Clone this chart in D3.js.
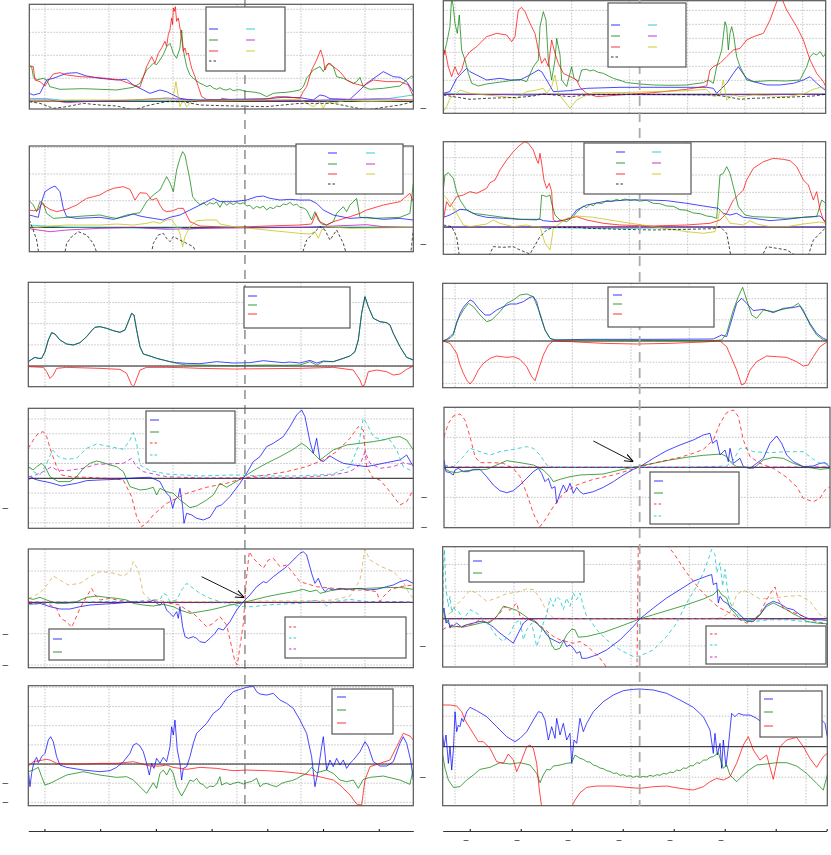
<!DOCTYPE html>
<html><head><meta charset="utf-8">
<script src="https://cdn.jsdelivr.net/npm/d3@7"></script>
<style>
body{margin:0;background:#fff;font-family:"DejaVu Sans",sans-serif;}
</style></head><body>
<svg id="fig" width="831" height="855"></svg>
<script>
'use strict';
//Series are flat lists: frame, value, frame, value ...
//Row 1, left.
const p1lBlue = [88,24, 100,19, 120,24, 140,64, 160,69, 200,84, 230,86, 260,76, 300,69, 350,64, 380,66, 400,49, 430,34, 450,24, 480,34, 500,29, 520,19, 540,9, 560,6, 600,4, 700,6, 800,8, 850,12, 900,11, 940,4, 960,19, 975,16, 990,8, 1050,6, 1080,34, 1100,54, 1150,89, 1180,74, 1200,72, 1220,59, 1240,29];
const p1lGreen = [88,104, 95,104, 100,74, 110,64, 130,69, 140,64, 150,44, 180,36, 250,38, 300,36, 350,34, 400,42, 420,54, 430,74, 440,94, 450,104, 460,114, 470,110, 480,124, 490,140, 500,164, 510,174, 515,160, 520,144, 530,129, 540,160, 545,214, 550,154, 560,104, 570,79, 580,69, 600,54, 610,50, 620,44, 630,48, 640,40, 650,36, 660,41, 670,35, 680,34, 690,38, 700,32, 710,34, 720,35, 735,30, 750,29, 765,27, 780,24, 800,14, 820,24, 840,26, 860,27, 880,30, 900,34, 910,44, 920,69, 940,94, 960,104, 970,89, 980,109, 990,114, 1000,104, 1010,74, 1030,69, 1050,59, 1060,54, 1070,59, 1080,72, 1090,44, 1110,36, 1150,39, 1200,46, 1220,64, 1235,76, 1240,70];
const p1lRed = [88,107, 100,104, 105,64, 120,59, 135,46, 150,69, 160,82, 180,86, 200,79, 240,74, 280,72, 320,69, 360,64, 400,49, 420,42, 440,104, 455,134, 465,114, 475,144, 485,160, 495,180, 500,165, 505,200, 510,214, 515,250, 518,230, 520,280, 523,270, 526,284, 530,240, 535,250, 540,220, 545,190, 550,150, 555,160, 560,140, 565,145, 570,120, 575,100, 585,74, 595,44, 605,14, 620,6, 660,4, 665,9, 700,4, 800,6, 830,14, 860,14, 900,9, 910,30, 920,44, 935,94, 950,124, 962,154, 970,129, 975,94, 985,114, 1000,104, 1020,89, 1040,64, 1060,54, 1080,49, 1090,46, 1120,64, 1160,59, 1200,59, 1225,49, 1240,14];
const p1lCyan = [88,9, 140,8, 200,2, 400,2, 500,4, 700,4, 900,2, 1150,6, 1240,19];
const p1lMagenta = [88,4, 150,4, 200,-4, 250,-1, 400,4, 470,8, 500,10, 600,2, 900,2, 1140,8, 1240,4];
const p1lYellow = [88,-1, 150,-1, 200,4, 400,4, 500,9, 510,-1, 520,14, 528,59, 535,14, 540,-16, 550,4, 560,-16, 580,4, 600,-1, 700,2, 800,4, 900,6, 920,-6, 940,-16, 960,-1, 970,-21, 980,-1, 1000,-6, 1040,4, 1100,-1, 1240,4];
const p1lBlack = [88,-1, 120,-6, 160,-21, 200,-16, 250,-6, 300,-11, 350,-14, 400,-26, 450,-11, 500,-1, 550,-1, 600,-11, 700,-14, 800,-16, 850,-11, 900,-6, 1000,-6, 1050,-16, 1100,-26, 1150,-18, 1200,-11, 1240,-1];
//Row 1, right.
const p1rBlue = [70,3, 90,8, 110,48, 125,63, 140,78, 150,68, 170,58, 200,43, 240,48, 270,43, 300,43, 330,58, 355,73, 365,68, 380,43, 400,8, 450,11, 500,18, 600,21, 700,21, 800,21, 860,21, 880,18, 890,3, 900,13, 920,33, 940,63, 955,83, 965,68, 980,48, 1000,38, 1040,28, 1080,28, 1120,33, 1150,43, 1170,53, 1190,33, 1217,11];
const p1rGreen = [70,113, 80,153, 90,203, 95,290, 100,263, 105,213, 112,183, 118,238, 125,133, 135,103, 145,63, 155,33, 175,25, 200,31, 250,38, 300,45, 320,38, 340,83, 355,103, 360,203, 370,248, 378,223, 385,103, 395,43, 405,103, 410,168, 420,118, 425,43, 440,23, 455,83, 462,48, 475,38, 485,73, 500,75, 510,70, 520,73, 535,66, 550,63, 565,55, 580,48, 600,42, 620,35, 660,31, 700,28, 750,27, 800,28, 850,35, 865,43, 880,33, 890,83, 905,133, 915,218, 920,203, 925,133, 930,183, 935,203, 940,183, 950,113, 960,83, 980,43, 1000,38, 1050,41, 1100,40, 1140,43, 1160,83, 1170,113, 1180,123, 1190,118, 1200,128, 1210,113, 1217,123];
const p1rRed = [70,113, 75,133, 85,83, 95,53, 105,83, 115,58, 125,73, 135,108, 150,128, 170,143, 200,173, 230,183, 260,178, 275,158, 285,173, 295,253, 305,261, 315,248, 330,213, 345,183, 355,133, 365,93, 375,108, 385,83, 395,163, 405,123, 415,93, 430,63, 450,53, 470,43, 480,21, 500,3, 530,-7, 560,-5, 600,-2, 700,5, 800,15, 860,25, 870,73, 880,83, 900,93, 920,113, 940,133, 960,138, 980,163, 1000,173, 1030,183, 1050,223, 1070,278, 1080,300, 1100,253, 1130,203, 1150,163, 1170,103, 1190,63, 1210,38, 1217,23];
const p1rCyan = [70,2, 200,-1, 400,0, 900,-2, 1217,1];
const p1rMagenta = [70,0, 250,-1, 330,-3, 360,0, 700,-1, 1217,0];
const p1rYellow = [70,-52, 80,-37, 90,-12, 105,-2, 120,13, 135,8, 150,3, 200,-2, 250,-7, 290,-12, 320,8, 350,13, 370,18, 380,3, 395,23, 405,58, 415,3, 430,-17, 450,-42, 470,-17, 490,-7, 520,5, 600,5, 700,8, 800,11, 860,15, 880,-7, 900,-2, 910,43, 920,-17, 940,-2, 960,-7, 1000,-2, 1100,-7, 1150,1, 1180,15, 1200,21, 1217,18];
const p1rBlack = [70,-2, 100,-7, 150,-15, 200,-12, 300,-9, 340,-5, 370,1, 400,-2, 450,-7, 500,-2, 600,0, 800,-1, 880,-2, 920,-7, 960,-15, 1000,-12, 1100,-9, 1180,-5, 1217,0];
//Row 2, left.
const p2lBlue = [88,37, 100,34, 115,30, 125,77, 135,107, 150,117, 165,124, 180,107, 190,57, 200,32, 230,27, 300,30, 340,24, 380,34, 400,40, 420,34, 440,30, 460,27, 490,22, 510,30, 540,37, 570,52, 600,67, 620,77, 640,87, 660,77, 700,77, 740,82, 770,92, 790,94, 810,87, 840,82, 870,84, 900,82, 930,82, 950,72, 970,52, 1000,37, 1050,27, 1100,30, 1150,24, 1200,27, 1240,22];
const p2lGreen = [88,80, 100,67, 110,47, 120,77, 130,72, 140,42, 160,27, 200,30, 250,34, 300,37, 330,30, 350,27, 380,37, 420,44, 440,77, 460,97, 480,112, 490,132, 500,152, 510,134, 520,107, 530,172, 540,207, 548,227, 555,217, 560,192, 570,142, 578,92, 590,77, 600,68, 610,74, 620,66, 630,74, 640,70, 650,76, 660,60, 670,78, 680,66, 690,74, 700,68, 710,75, 720,70, 730,74, 740,64, 750,66, 760,55, 770,63, 780,58, 790,64, 800,52, 810,60, 820,56, 830,64, 840,62, 850,70, 860,68, 870,75, 880,66, 890,70, 900,60, 910,58, 920,52, 935,22, 945,47, 955,22, 965,10, 980,7, 1000,17, 1010,42, 1020,52, 1030,62, 1040,47, 1050,67, 1060,77, 1070,87, 1080,30, 1120,27, 1200,30, 1230,42, 1240,132];
const p2lRed = [88,52, 100,50, 115,52, 125,72, 135,64, 150,54, 170,47, 200,54, 230,67, 260,87, 280,92, 300,97, 320,109, 340,117, 370,122, 390,114, 405,82, 420,104, 440,102, 455,82, 470,87, 480,67, 490,52, 500,47, 520,50, 535,57, 550,57, 570,17, 600,4, 700,0, 800,4, 900,7, 935,10, 948,42, 960,17, 980,7, 1000,17, 1050,32, 1080,42, 1100,52, 1150,67, 1200,77, 1230,102, 1240,77];
const p2lCyan = [88,7, 200,0, 500,-3, 540,0, 560,-6, 600,-3, 700,0, 1240,0];
const p2lMagenta = [88,-4, 150,-13, 200,-8, 300,-3, 400,0, 500,-6, 600,-3, 900,0, 1100,8, 1150,2, 1240,0];
const p2lYellow = [88,-3, 150,4, 200,7, 300,7, 350,10, 400,7, 440,12, 460,17, 480,12, 500,22, 515,24, 530,2, 540,-18, 548,-58, 555,-28, 570,2, 590,20, 620,22, 650,22, 660,10, 700,2, 800,-8, 900,-18, 930,-20, 945,-13, 955,-33, 965,-8, 980,2, 1050,-3, 1240,0];
const p2lBlack = [88,22, 100,-8, 110,-38, 120,-100, 190,-100, 200,-48, 215,-28, 235,-13, 260,-23, 280,-48, 300,-100, 450,-100, 460,-48, 475,-23, 490,-18, 500,-33, 510,-43, 520,-28, 540,-38, 560,-48, 580,-58, 600,-100, 900,-100, 920,-38, 940,-18, 960,2, 975,-8, 990,-38, 1010,-8, 1030,-48, 1045,-100, 1230,-100, 1240,-8];
//Row 2, right.
const p2rBlue = [70,29, 90,36, 120,53, 140,51, 170,36, 200,29, 250,26, 300,23, 360,23, 370,19, 400,16, 430,19, 450,26, 470,51, 500,66, 550,76, 620,81, 680,81, 740,79, 800,71, 850,63, 895,56, 910,41, 930,36, 950,41, 970,29, 1000,26, 1050,19, 1100,23, 1150,29, 1200,33, 1217,16];
const p2rGreen = [70,111, 75,156, 85,163, 100,146, 110,106, 120,81, 140,51, 160,41, 200,36, 250,29, 300,23, 350,21, 360,26, 365,96, 380,91, 390,96, 395,71, 405,36, 420,21, 440,16, 460,31, 470,45, 480,53, 490,63, 500,58, 510,68, 520,64, 530,73, 545,70, 560,80, 575,76, 590,83, 600,79, 615,84, 630,80, 645,82, 660,78, 680,80, 700,71, 720,70, 740,63, 760,62, 780,52, 800,50, 820,42, 840,40, 860,33, 875,31, 890,26, 900,156, 910,161, 920,181, 930,161, 940,121, 955,61, 975,36, 1000,31, 1050,29, 1100,26, 1150,29, 1190,31, 1205,81, 1217,71];
const p2rRed = [70,21, 80,76, 90,61, 100,76, 110,91, 130,96, 150,106, 170,101, 200,116, 210,133, 225,141, 240,171, 260,201, 280,226, 300,246, 315,256, 325,251, 340,231, 350,201, 355,191, 360,221, 365,191, 372,141, 380,116, 388,131, 395,106, 400,21, 410,16, 430,21, 450,26, 470,31, 500,21, 550,11, 600,6, 700,3, 800,6, 870,11, 900,21, 920,41, 940,81, 955,96, 970,111, 980,141, 1000,176, 1030,196, 1060,206, 1090,203, 1110,199, 1130,181, 1150,141, 1165,126, 1180,81, 1190,106, 1200,51, 1210,21, 1217,11];
const p2rCyan = [70,1, 360,-1, 380,-5, 400,-2, 500,-4, 600,-5, 700,-3, 900,-1, 1217,0];
const p2rMagenta = [70,-1, 600,0, 1217,-1];
const p2rYellow = [70,96, 80,86, 95,66, 110,41, 130,6, 150,1, 200,9, 220,21, 240,11, 280,1, 320,6, 340,1, 360,1, 375,-49, 390,-69, 395,-39, 400,-4, 420,11, 440,26, 470,33, 520,29, 600,16, 700,1, 800,-14, 850,-19, 885,-14, 900,51, 915,33, 930,11, 950,9, 970,6, 990,19, 1010,9, 1050,1, 1100,1, 1150,9, 1200,15, 1217,11];
const p2rBlack = [70,6, 95,1, 110,-29, 120,-100, 200,-100, 220,-59, 250,-61, 280,-59, 300,-69, 330,-81, 360,-29, 380,-9, 400,-1, 480,-1, 500,-4, 600,-7, 700,-9, 800,-7, 880,-5, 900,1, 920,-19, 935,-100, 1020,-100, 1040,-59, 1070,-64, 1100,-69, 1120,-81, 1160,-100, 1180,-39, 1210,-9, 1217,-1];
//Row 3, left.
const p3lBlue = [85,13, 95,20, 105,26, 115,23, 125,23, 135,43, 145,78, 155,100, 165,96, 180,78, 200,66, 220,63, 240,70, 260,88, 275,106, 285,116, 300,118, 320,113, 340,106, 360,101, 375,108, 385,133, 395,158, 402,153, 410,108, 420,58, 430,36, 450,30, 470,23, 490,18, 510,13, 530,10, 560,8, 600,7, 650,13, 700,9, 750,10, 790,16, 850,10, 870,12, 900,9, 930,17, 950,9, 970,15, 1000,13, 1030,23, 1050,30, 1065,43, 1075,78, 1085,158, 1095,208, 1105,178, 1120,143, 1140,133, 1160,130, 1170,123, 1180,98, 1200,58, 1220,26, 1240,18];
const p3lGreen = [85,13, 95,20, 105,26, 115,23, 125,23, 135,43, 145,78, 155,100, 165,96, 180,78, 200,66, 220,63, 240,70, 260,88, 275,106, 285,116, 300,118, 320,113, 340,106, 360,101, 375,108, 385,133, 395,158, 402,153, 410,108, 420,58, 430,36, 450,30, 470,23, 490,18, 510,13, 530,8, 560,3, 600,3, 650,2, 700,1, 750,2, 800,3, 850,2, 900,3, 930,13, 950,3, 970,13, 1000,13, 1030,23, 1050,30, 1065,43, 1075,78, 1085,158, 1095,208, 1105,178, 1120,143, 1140,133, 1160,130, 1170,123, 1180,98, 1200,58, 1220,26, 1240,18];
const p3lRed = [85,-2, 130,-4, 140,-17, 150,-37, 160,-27, 170,-7, 200,-4, 300,-7, 360,-10, 380,-22, 395,-57, 400,-62, 405,-52, 420,-12, 440,-4, 500,-4, 550,-5, 600,-7, 700,-9, 800,-8, 900,-7, 1000,-4, 1060,-12, 1080,-42, 1088,-62, 1095,-52, 1105,-17, 1130,-12, 1160,-17, 1180,-27, 1200,-24, 1220,-10, 1240,0];
//Row 3, right.
const p3rBlue = [68,0, 80,5, 90,13, 100,23, 110,53, 120,83, 130,101, 140,113, 150,123, 160,118, 175,98, 195,78, 210,78, 230,93, 250,103, 270,111, 290,111, 310,118, 330,131, 340,133, 350,118, 360,78, 375,33, 390,8, 400,3, 500,5, 700,5, 880,6, 905,18, 920,13, 935,63, 950,113, 965,128, 980,113, 1000,91, 1030,95, 1060,85, 1090,98, 1120,100, 1140,105, 1150,88, 1170,53, 1190,23, 1210,8, 1222,3];
const p3rGreen = [68,0, 90,8, 100,18, 110,58, 130,93, 145,113, 160,103, 180,78, 200,58, 215,63, 240,88, 260,113, 280,123, 300,138, 320,141, 340,133, 360,83, 375,33, 390,8, 410,3, 500,3, 700,2, 880,1, 905,3, 920,23, 940,93, 955,133, 968,161, 980,123, 995,78, 1010,68, 1030,93, 1060,88, 1090,95, 1120,103, 1135,113, 1150,93, 1170,48, 1190,18, 1210,3, 1222,1];
const p3rRed = [68,0, 90,-7, 100,-22, 110,-37, 120,-72, 130,-97, 140,-117, 150,-129, 160,-117, 175,-87, 190,-67, 210,-52, 230,-45, 260,-49, 280,-47, 300,-55, 320,-77, 335,-107, 345,-119, 355,-87, 370,-42, 385,-12, 400,0, 450,-2, 550,-7, 650,-9, 750,-7, 850,-3, 900,0, 920,-17, 935,-52, 950,-87, 965,-132, 975,-127, 990,-87, 1010,-62, 1040,-45, 1070,-47, 1100,-49, 1130,-62, 1150,-75, 1165,-72, 1180,-47, 1200,-17, 1222,-2];
//Row 4, left.
const p4lBlue = [85,-5, 95,3, 105,-3, 120,-7, 150,-13, 185,-23, 200,-20, 230,-15, 260,-7, 300,-5, 350,-3, 390,0, 420,2, 450,3, 465,-3, 480,-10, 490,-30, 500,-45, 510,-55, 518,-90, 525,-65, 535,-55, 540,-30, 548,-85, 552,-135, 560,-105, 575,-110, 590,-120, 610,-125, 630,-117, 650,-85, 665,-80, 690,-55, 720,-15, 740,15, 760,50, 780,65, 800,95, 820,105, 850,125, 870,155, 890,190, 905,205, 915,185, 930,110, 940,75, 950,120, 960,55, 970,50, 990,67, 1010,55, 1030,45, 1060,40, 1100,35, 1150,45, 1200,55, 1220,70, 1240,35];
const p4lGreen = [85,35, 100,25, 110,35, 125,45, 135,35, 150,5, 175,-10, 210,-10, 230,5, 250,30, 270,45, 290,52, 310,47, 330,40, 350,35, 370,20, 390,-25, 420,-35, 440,-33, 460,-27, 470,-50, 480,-30, 500,-40, 520,-45, 540,-65, 560,-80, 570,-88, 590,-83, 620,-65, 640,-50, 660,-15, 680,-27, 700,-15, 720,-3, 740,10, 760,23, 800,45, 840,65, 880,87, 905,105, 920,95, 940,75, 960,55, 980,70, 1000,85, 1040,100, 1080,105, 1120,110, 1150,115, 1180,123, 1200,125, 1220,115, 1240,85];
const p4lRed = [85,90, 100,115, 115,135, 130,140, 140,125, 155,75, 170,35, 185,10, 210,5, 260,3, 320,0, 370,-5, 395,-55, 410,-115, 425,-145, 440,-135, 460,-110, 500,-75, 560,-45, 620,-27, 680,-15, 740,3, 800,10, 860,20, 920,35, 970,55, 1010,80, 1050,120, 1075,155, 1090,145, 1100,35, 1120,0, 1140,-5, 1170,-40, 1200,-80, 1220,-70, 1240,-35];
const p4lCyan = [85,35, 100,20, 120,10, 140,45, 158,85, 175,65, 200,57, 230,60, 260,90, 290,103, 330,95, 370,87, 390,115, 400,137, 410,105, 420,40, 450,23, 500,13, 600,7, 700,10, 800,7, 900,7, 1000,13, 1050,35, 1075,95, 1090,180, 1100,165, 1120,125, 1140,117, 1170,115, 1190,85, 1210,35, 1240,20];
const p4lMagenta = [85,5, 100,7, 130,20, 155,35, 170,25, 200,23, 250,30, 290,42, 330,43, 370,45, 395,60, 410,35, 430,20, 460,13, 500,5, 600,1, 900,2, 1000,10, 1050,20, 1080,40, 1095,80, 1110,45, 1140,30, 1180,35, 1210,47, 1240,40];
//Row 4, right.
const p4rBlue = [72,22, 78,-13, 90,-16, 100,-23, 105,-8, 115,-3, 130,-13, 145,-13, 160,-6, 180,-6, 200,-28, 220,-53, 240,-70, 260,-76, 280,-70, 300,-53, 320,-33, 340,-13, 355,-3, 365,-18, 375,-43, 385,-33, 395,-63, 405,-58, 410,-108, 420,-78, 430,-53, 440,-73, 450,-48, 460,-78, 470,-60, 480,-73, 490,-80, 520,-73, 550,-60, 580,-43, 610,-23, 640,-6, 660,2, 700,27, 740,50, 780,67, 820,82, 850,97, 870,102, 878,72, 890,82, 900,37, 915,52, 925,17, 930,57, 940,12, 960,27, 970,2, 990,-3, 1010,12, 1030,27, 1050,72, 1070,94, 1085,72, 1100,37, 1120,17, 1150,2, 1180,4, 1200,12, 1215,14, 1230,0];
const p4rGreen = [72,-3, 90,-13, 110,-16, 130,-11, 160,-8, 200,-6, 230,7, 260,20, 300,14, 340,7, 370,-8, 390,-28, 400,-43, 420,-36, 450,-28, 480,-23, 550,-20, 600,-8, 650,2, 700,12, 750,22, 800,30, 850,36, 905,40, 920,32, 935,12, 950,2, 1000,-3, 1030,22, 1060,30, 1090,27, 1120,12, 1150,2, 1200,-6, 1230,-3];
const p4rRed = [72,92, 85,132, 100,154, 120,160, 135,142, 150,92, 165,32, 180,14, 220,14, 250,12, 280,-3, 300,-28, 320,-78, 340,-138, 360,-178, 375,-158, 400,-118, 430,-78, 470,-53, 520,-36, 580,-23, 630,-8, 660,2, 720,17, 780,30, 820,42, 850,54, 880,82, 900,132, 920,164, 940,172, 955,152, 970,82, 990,32, 1020,12, 1060,-3, 1100,-30, 1130,-58, 1150,-93, 1180,-103, 1200,-93, 1215,-68, 1230,-58];
const p4rCyan = [72,7, 100,2, 130,32, 150,57, 180,47, 210,37, 240,47, 280,54, 320,62, 340,57, 360,37, 380,7, 400,0, 600,0, 800,0, 920,4, 940,22, 960,57, 980,57, 1000,47, 1050,44, 1100,47, 1150,47, 1180,24, 1200,12, 1230,10];
const p4rMagenta = [72,1, 600,0, 1230,1];
//Row 5, left.
const p5lBlue = [85,-3, 100,-5, 120,-3, 150,-13, 180,-20, 210,-20, 240,-13, 270,-8, 300,-6, 350,-3, 400,2, 430,-1, 450,2, 460,7, 470,-3, 480,-8, 490,2, 500,-23, 510,-33, 520,-43, 530,-28, 535,-48, 540,-13, 548,-73, 555,-103, 565,-108, 580,-103, 590,-108, 600,-118, 615,-121, 630,-108, 645,-93, 655,-78, 670,-83, 690,-58, 710,-23, 730,2, 750,22, 770,47, 790,62, 800,59, 820,77, 840,92, 860,107, 880,127, 900,147, 910,152, 920,142, 935,87, 945,57, 955,72, 965,47, 975,32, 985,42, 1000,37, 1020,42, 1050,39, 1080,42, 1100,37, 1130,39, 1160,47, 1180,52, 1200,62, 1220,67, 1240,57];
const p5lGreen = [85,12, 100,9, 120,15, 140,7, 170,-3, 200,-3, 230,2, 260,15, 290,19, 320,15, 350,12, 380,7, 400,-3, 430,-8, 460,-11, 490,-6, 520,-13, 540,-23, 570,-33, 600,-28, 630,-23, 660,-16, 690,-8, 720,-3, 760,7, 800,17, 840,25, 880,32, 910,39, 930,32, 950,37, 960,27, 980,32, 1000,37, 1050,41, 1100,42, 1150,44, 1200,45, 1240,39];
const p5lRed = [85,-3, 100,-5, 130,-3, 150,-8, 170,-18, 180,-43, 190,-53, 200,-58, 215,-75, 225,-53, 240,-18, 260,17, 275,42, 285,22, 300,7, 330,12, 360,5, 400,2, 450,2, 500,-1, 540,-8, 560,-23, 580,-33, 600,-53, 620,-73, 640,-63, 660,-43, 680,-68, 695,-133, 705,-178, 712,-188, 720,-133, 730,-63, 740,77, 748,152, 760,132, 775,117, 790,102, 805,127, 820,132, 840,107, 860,112, 880,87, 900,62, 950,47, 1000,42, 1050,37, 1100,37, 1130,32, 1140,2, 1150,17, 1170,37, 1200,47, 1240,52];
const p5lCyan = [85,-8, 120,-1, 200,-3, 300,2, 400,2, 450,7, 480,7, 490,27, 500,22, 510,2, 530,7, 545,37, 560,57, 580,42, 600,27, 630,12, 660,2, 700,-8, 730,-13, 760,-13, 800,-8, 850,-5, 900,-3, 950,7, 970,-3, 980,-11, 1000,2, 1050,9, 1100,2, 1150,2, 1200,2, 1240,-1];
const p5lMagenta = [85,1, 600,-1, 1240,1];
const p5lTan = [85,12, 100,17, 130,37, 160,79, 180,67, 205,52, 240,57, 270,77, 300,92, 330,90, 370,79, 390,92, 400,122, 415,97, 430,27, 450,9, 500,2, 600,2, 700,2, 800,4, 900,4, 1000,7, 1050,19, 1080,67, 1095,159, 1110,127, 1140,109, 1180,92, 1210,62, 1230,22, 1240,15];
//Row 5, right.
const p5rBlue = [68,22, 72,32, 78,-13, 85,-3, 90,-28, 95,-18, 100,-21, 110,-13, 125,-25, 140,-18, 160,-13, 180,-8, 200,-11, 220,-25, 240,-43, 260,-58, 280,-73, 295,-43, 310,-13, 325,-1, 340,-3, 355,-18, 370,-33, 380,-48, 390,-58, 400,-63, 410,-68, 420,-73, 430,-63, 440,-83, 450,-78, 460,-88, 470,-103, 480,-98, 485,-118, 500,-118, 530,-108, 560,-93, 600,-63, 640,-23, 660,0, 700,32, 740,62, 780,87, 820,112, 860,127, 875,132, 880,102, 890,107, 895,47, 900,67, 910,52, 920,47, 935,32, 950,22, 960,12, 980,-8, 1000,-8, 1020,12, 1040,42, 1060,52, 1080,45, 1100,32, 1120,27, 1140,12, 1160,2, 1180,-3, 1200,-3, 1222,-5];
const p5rGreen = [68,27, 80,-8, 95,-25, 110,-23, 130,-25, 160,-18, 190,-11, 210,-11, 230,7, 250,37, 270,32, 290,25, 310,12, 330,-3, 350,-13, 370,-33, 385,-48, 395,-78, 405,-93, 420,-88, 440,-48, 455,-31, 465,-33, 475,-55, 500,-53, 550,-41, 600,-23, 640,-8, 660,0, 700,12, 750,27, 800,42, 850,59, 880,72, 895,87, 905,72, 920,62, 930,32, 945,17, 960,-3, 980,-5, 1000,-3, 1020,12, 1040,37, 1060,47, 1080,37, 1100,27, 1120,15, 1140,5, 1160,-8, 1190,-13, 1222,-15];
const p5rRed = [68,-33, 80,-25, 100,-21, 120,-25, 140,-18, 160,-15, 180,-3, 200,-11, 220,-3, 240,17, 255,37, 270,25, 290,47, 300,7, 320,-3, 340,-3, 370,-28, 400,-53, 420,-63, 440,-68, 460,-73, 480,-68, 500,-81, 520,-98, 540,-118, 555,-138, 600,-260, 645,-700, 660,700, 700,330, 745,215, 760,197, 780,167, 800,137, 820,112, 840,87, 860,67, 880,47, 900,32, 920,22, 940,12, 960,-3, 980,-13, 1000,-8, 1020,17, 1040,57, 1060,89, 1065,95, 1075,57, 1090,32, 1110,22, 1140,12, 1160,2, 1190,-8, 1222,-18];
const p5rCyan = [68,0, 70,137, 73,207, 78,87, 85,37, 90,67, 95,17, 100,37, 105,27, 115,22, 130,-3, 150,27, 170,17, 190,-3, 210,-23, 230,-53, 250,-68, 270,-43, 285,-13, 300,-3, 310,-63, 320,-33, 335,-13, 350,-83, 360,-53, 370,-13, 380,12, 390,62, 400,37, 410,67, 420,57, 430,27, 440,62, 450,37, 460,77, 470,57, 480,77, 490,37, 500,7, 510,-3, 530,-33, 560,-63, 600,-93, 640,-113, 660,-111, 700,-93, 740,-53, 770,-13, 800,47, 830,97, 850,137, 865,177, 875,207, 885,192, 890,137, 900,167, 908,97, 915,147, 925,67, 935,37, 950,17, 970,-3, 1000,-8, 1050,-3, 1100,-3, 1150,-8, 1222,-13];
const p5rMagenta = [68,0, 600,0, 1222,0];
const p5rTan = [68,0, 90,17, 110,42, 130,62, 150,85, 170,77, 200,52, 230,62, 260,75, 290,79, 320,89, 340,87, 360,62, 380,22, 400,2, 500,0, 600,0, 700,0, 800,0, 900,2, 930,17, 950,72, 970,85, 990,77, 1020,59, 1060,62, 1100,67, 1140,69, 1170,52, 1200,12, 1222,2];
//Row 6, left.
const p6lBlue = [85,-18, 90,-68, 95,-28, 100,-3, 105,12, 110,20, 115,4, 120,12, 125,22, 135,32, 145,72, 152,82, 160,67, 170,22, 180,-3, 200,-10, 250,-18, 300,-23, 330,-20, 350,-10, 370,7, 390,32, 400,57, 410,62, 420,54, 430,37, 440,2, 448,-33, 455,2, 462,-13, 470,17, 480,2, 490,20, 500,7, 510,52, 515,112, 520,87, 525,132, 532,42, 540,2, 545,-48, 550,-13, 560,-8, 570,22, 580,62, 590,92, 600,102, 620,122, 640,152, 660,167, 680,197, 700,217, 720,224, 740,230, 760,234, 770,217, 780,210, 800,207, 820,212, 840,192, 860,182, 880,167, 900,132, 920,92, 935,22, 945,-68, 955,-18, 965,52, 970,82, 980,-18, 990,12, 1000,-8, 1010,17, 1020,-3, 1030,12, 1040,-13, 1050,2, 1060,12, 1080,37, 1095,67, 1105,52, 1120,7, 1140,-6, 1160,-6, 1180,7, 1200,62, 1210,82, 1220,62, 1232,12, 1240,-48];
const p6lGreen = [85,-23, 100,-18, 115,-10, 125,-38, 135,-63, 150,-58, 170,-48, 200,-33, 250,-23, 300,-33, 350,-40, 380,-38, 400,-48, 420,-68, 440,-88, 460,-56, 470,-73, 480,-28, 490,-18, 500,-33, 510,-13, 520,-28, 530,-68, 545,-96, 555,-78, 570,-48, 580,-52, 590,-43, 600,-58, 610,-62, 620,-73, 630,-66, 640,-68, 650,-60, 660,-38, 665,-63, 680,-56, 690,-62, 700,-58, 715,-54, 730,-60, 740,-56, 755,-52, 770,-43, 780,-68, 790,-60, 800,-58, 815,-64, 830,-68, 845,-58, 860,-53, 875,-50, 890,-44, 900,-38, 920,-28, 935,-10, 950,-26, 980,-18, 1000,-28, 1020,-48, 1040,-53, 1060,-48, 1075,-73, 1090,-46, 1110,-40, 1150,-36, 1200,-48, 1230,-61, 1240,-13];
const p6lRed = [85,-6, 100,7, 140,14, 150,12, 170,2, 200,0, 250,0, 300,2, 350,2, 400,7, 420,2, 450,-6, 480,-6, 500,-3, 520,-10, 560,-16, 600,-10, 650,-13, 700,-20, 740,-18, 800,-20, 850,-23, 900,-28, 950,-36, 1000,-48, 1020,-63, 1050,-93, 1070,-120, 1085,-123, 1095,-48, 1110,-8, 1140,2, 1170,12, 1190,52, 1210,92, 1230,84, 1240,72];
//Row 6, right.
const p6rBlue = [68,35, 72,0, 78,35, 85,-50, 90,0, 95,-70, 100,-10, 105,105, 110,45, 115,65, 120,60, 125,85, 130,75, 140,105, 150,118, 170,108, 200,90, 230,60, 260,30, 285,15, 300,25, 320,45, 340,80, 355,105, 365,102, 375,80, 385,20, 395,60, 405,25, 410,85, 420,35, 430,70, 440,20, 450,40, 455,-50, 462,20, 470,10, 480,85, 490,45, 500,70, 520,105, 550,135, 580,155, 610,168, 640,172, 660,173, 700,170, 740,160, 780,140, 820,118, 850,90, 870,50, 880,-20, 885,40, 892,-25, 900,10, 905,-65, 910,20, 918,-60, 925,0, 935,100, 945,90, 955,100, 970,95, 990,95, 1010,85, 1030,70, 1050,40, 1080,50, 1120,50, 1150,60, 1170,65, 1200,85, 1215,70, 1222,30];
const p6rGreen = [68,-25, 75,-65, 85,-100, 100,-122, 120,-120, 140,-100, 160,-85, 180,-68, 210,-62, 240,-48, 270,-52, 300,-48, 330,-55, 350,-80, 360,-108, 370,-85, 380,-68, 390,-70, 400,-58, 420,-55, 440,-50, 455,-48, 465,-25, 480,-35, 490,-38, 500,-45, 510,-46, 520,-55, 530,-58, 540,-64, 550,-66, 560,-72, 570,-74, 580,-80, 590,-79, 600,-86, 610,-84, 620,-89, 630,-87, 640,-92, 650,-88, 660,-92, 670,-89, 680,-91, 690,-86, 700,-89, 710,-84, 720,-86, 730,-80, 740,-82, 750,-76, 760,-78, 770,-70, 780,-72, 790,-64, 800,-65, 810,-57, 820,-57, 830,-48, 840,-50, 850,-40, 860,-40, 870,-32, 880,-30, 895,-18, 910,-65, 920,-55, 930,-85, 950,-105, 970,-85, 990,-68, 1010,-55, 1040,-52, 1070,-48, 1100,-48, 1130,-58, 1160,-80, 1190,-110, 1210,-130, 1222,-85];
const p6rRed = [68,125, 90,125, 110,122, 125,105, 135,80, 150,55, 175,15, 190,15, 210,-5, 230,-45, 250,-50, 265,-22, 280,-40, 290,-75, 305,-40, 320,0, 330,5, 340,-5, 350,-50, 358,-130, 365,-180, 400,-300, 455,-180, 465,-160, 480,-138, 500,-122, 530,-118, 580,-118, 620,-122, 660,-125, 700,-120, 740,-118, 780,-125, 820,-130, 850,-120, 870,-105, 890,-95, 910,-100, 930,-90, 950,-50, 970,5, 985,30, 1000,-10, 1020,-40, 1040,-25, 1060,-98, 1080,0, 1100,20, 1130,28, 1150,0, 1170,-35, 1190,-62, 1210,-30, 1222,-20];

//Grid tick frames for each column.
const leftTicks = [135, 327, 519, 711, 903, 1095];
const rightTicksTop = [105, 280, 455, 628, 803, 975, 1148];
const rightTicks = [105, 282, 457, 633, 808, 983, 1158];
//Marked frame (dashed vertical).
const markLeft = 735;
const markRight = 659;
//Bottom strip ticks.
const bottomLeftTicks = [0, 1, 2, 3, 4, 5, 6];
const bottomRightTicks = [-6, -5, -4, -3, -2, -1, 0, 1];
//Arrow notes: frame, value to frame, value.
const arrow4r = [520, 79, 640, 17];
const arrow5l = [605, 77, 733, 14];

const pairs = a => d3.range(0, a.length, 2).map(i => [a[i], a[i + 1]]);

const styles = {
	b: {c: '#0000ff'}, g: {c: '#008000'}, r: {c: '#ff0000'},
	c: {c: '#00bfbf'}, m: {c: '#bf00bf'}, y: {c: '#bfbf00'},
	k: {c: '#000000', dash: '3,2'},
	rd: {c: '#ff0000', dash: '4,3'}, cd: {c: '#00bfbf', dash: '4,3'},
	md: {c: '#bf00bf', dash: '4,3'}, od: {c: '#d4a640', dash: '4,3'}
};

//Panel layout. xr/yr are pixel boxes, xd/yd the data window.
const panels = [
	{xr: [29.3, 413.3], yr: [4.3, 109], xd: [88, 1240], yd: [-23, 291], step: 69, xt: leftTicks, neg: [], side: 'l',
		series: [[p1lBlue, 'b'], [p1lGreen, 'g'], [p1lRed, 'r'], [p1lCyan, 'c'], [p1lMagenta, 'm'], [p1lYellow, 'y'], [p1lBlack, 'k']],
		legends: [{box: [206, 7, 79, 64], items: [[209, 29, 'b'], [209, 40, 'g'], [209, 51, 'r'], [209, 61, 'k'], [246, 29, 'c'], [246, 40, 'm'], [246, 51, 'y']]}]},
	{xr: [443.3, 825.7], yr: [0.7, 113.3], xd: [70, 1217], yd: [-57, 281], step: 42, xt: rightTicksTop, neg: [-42], side: 'r',
		series: [[p1rBlue, 'b'], [p1rGreen, 'g'], [p1rRed, 'r'], [p1rCyan, 'c'], [p1rMagenta, 'm'], [p1rYellow, 'y'], [p1rBlack, 'k']],
		legends: [{box: [608, 3, 78, 64], items: [[611, 25, 'b'], [611, 36, 'g'], [611, 47, 'r'], [611, 57, 'k'], [648, 25, 'c'], [648, 36, 'm'], [648, 47, 'y']]}]},
	{xr: [29.3, 413.3], yr: [146, 251.7], xd: [88, 1240], yd: [-73, 244], step: 80, xt: leftTicks, neg: [], side: 'l',
		series: [[p2lBlue, 'b'], [p2lGreen, 'g'], [p2lRed, 'r'], [p2lCyan, 'c'], [p2lMagenta, 'm'], [p2lYellow, 'y'], [p2lBlack, 'k']],
		legends: [{box: [296, 144, 107, 50], items: [[328, 153, 'b'], [328, 164, 'g'], [328, 174, 'r'], [328, 184, 'k'], [366, 153, 'c'], [366, 164, 'm'], [366, 174, 'y']]}]},
	{xr: [443.3, 825.7], yr: [141.7, 254.3], xd: [70, 1217], yd: [-82, 256], step: 52, xt: rightTicksTop, neg: [-52], side: 'r',
		series: [[p2rBlue, 'b'], [p2rGreen, 'g'], [p2rRed, 'r'], [p2rCyan, 'c'], [p2rMagenta, 'm'], [p2rYellow, 'y'], [p2rBlack, 'k']],
		legends: [{box: [584, 143, 107, 51], items: [[616, 152, 'b'], [616, 163, 'g'], [616, 174, 'r'], [616, 184, 'k'], [652, 152, 'c'], [652, 163, 'm'], [652, 174, 'y']]}]},
	{xr: [28.3, 413.3], yr: [282.3, 386.7], xd: [85, 1240], yd: [-62, 251], step: 63.5, xt: leftTicks, neg: [], side: 'l',
		series: [[p3lBlue, 'b'], [p3lGreen, 'g'], [p3lRed, 'r']],
		legends: [{box: [244, 287, 106, 41], items: [[248, 296, 'b'], [248, 305, 'g'], [248, 314, 'r']]}]},
	{xr: [442.7, 827.3], yr: [283.3, 387.7], xd: [68, 1222], yd: [-140, 173], step: 63.5, xt: rightTicks, neg: [], side: 'r',
		series: [[p3rBlue, 'b'], [p3rGreen, 'g'], [p3rRed, 'r']],
		legends: [{box: [608, 287, 106, 40], items: [[613, 295, 'b'], [613, 304, 'g'], [613, 314, 'r']]}]},
	{xr: [28.3, 413.3], yr: [408.3, 528.3], xd: [85, 1240], yd: [-150, 210], step: 44.5, xt: leftTicks, neg: [-89], side: 'l',
		series: [[p4lBlue, 'b'], [p4lGreen, 'g'], [p4lRed, 'rd'], [p4lCyan, 'cd'], [p4lMagenta, 'md']],
		legends: [{box: [146, 411, 89, 52], items: [[150, 420, 'b'], [150, 432, 'g'], [150, 443, 'rd'], [150, 455, 'cd']]}]},
	{xr: [444, 830], yr: [407.3, 527.7], xd: [72, 1230], yd: [-181, 180], step: 90, xt: rightTicks, neg: [-90, -180], side: 'r',
		series: [[p4rBlue, 'b'], [p4rGreen, 'g'], [p4rRed, 'rd'], [p4rCyan, 'cd'], [p4rMagenta, 'md']],
		legends: [{box: [650, 472, 89, 52], items: [[654, 481, 'b'], [654, 493, 'g'], [654, 504, 'rd'], [654, 516, 'cd']]}],
		arrow: arrow4r},
	{xr: [28.3, 413.3], yr: [549, 667.7], xd: [85, 1240], yd: [-196, 160], step: 94, xt: leftTicks, neg: [-94, -188], side: 'l',
		series: [[p5lTan, 'od'], [p5lBlue, 'b'], [p5lGreen, 'g'], [p5lRed, 'rd'], [p5lCyan, 'cd'], [p5lMagenta, 'md']],
		legends: [{box: [49, 629, 115, 31], items: [[53, 639, 'b'], [53, 652, 'g']]},
			{box: [285, 617, 121, 41], items: [[289, 627, 'rd'], [289, 638, 'cd'], [289, 649, 'md']]}],
		arrow: arrow5l},
	{xr: [442.7, 827.3], yr: [546.7, 667], xd: [68, 1222], yd: [-144, 215], step: 81, xt: rightTicks, neg: [-81], side: 'r',
		series: [[p5rTan, 'od'], [p5rBlue, 'b'], [p5rGreen, 'g'], [p5rRed, 'rd'], [p5rCyan, 'cd'], [p5rMagenta, 'md']],
		legends: [{box: [469, 551, 115, 31], items: [[473, 561, 'b'], [473, 573, 'g']]},
			{box: [706, 626, 120, 38], items: [[710, 634, 'rd'], [710, 645, 'cd'], [710, 657, 'md']]}]},
	{xr: [28.3, 413.3], yr: [685.7, 805.7], xd: [85, 1240], yd: [-125, 235], step: 57.5, xt: leftTicks, neg: [-57.5, -115], side: 'l',
		series: [[p6lBlue, 'b'], [p6lGreen, 'g'], [p6lRed, 'r']],
		legends: [{box: [332, 689, 61, 45], items: [[337, 697, 'b'], [337, 710, 'g'], [337, 723, 'r']]}]},
	{xr: [442.7, 827.3], yr: [685, 805.7], xd: [68, 1222], yd: [-177, 185], step: 91.5, xt: rightTicks, neg: [-91.5], side: 'r',
		series: [[p6rBlue, 'b'], [p6rGreen, 'g'], [p6rRed, 'r']],
		legends: [{box: [760, 691, 62, 46], items: [[764, 699, 'b'], [764, 712, 'g'], [764, 726, 'r']]}]}
];

const svg = d3.select('#fig');
svg.append('rect').attr('width', 831).attr('height', 855).attr('fill', '#fff');
svg.append('defs').append('marker')
	.attr('id', 'head').attr('viewBox', '0 0 10 10')
	.attr('refX', 10).attr('refY', 5)
	.attr('markerWidth', 9).attr('markerHeight', 9)
	.attr('markerUnits', 'userSpaceOnUse')
	.attr('orient', 'auto')
	.append('path').attr('d', 'M0,1L10,5L0,9')
	.attr('fill', 'none').attr('stroke', '#000').attr('stroke-width', 1.2);

const panelLayer = svg.append('g');
const markLayer = svg.append('g');
const legendLayer = svg.append('g');

panels.forEach((p, i) => {
	const xs = d3.scaleLinear().domain(p.xd).range(p.xr);
	const ys = d3.scaleLinear().domain(p.yd).range([p.yr[1], p.yr[0]]);
	const g = panelLayer.append('g');
	const w = p.xr[1] - p.xr[0];
	const h = p.yr[1] - p.yr[0];
	g.append('clipPath').attr('id', 'clip' + i)
		.append('rect').attr('x', p.xr[0]).attr('y', p.yr[0]).attr('width', w).attr('height', h);
	//Grid.
	const yt = d3.range(Math.ceil(p.yd[0] / p.step), Math.floor(p.yd[1] / p.step) + 1).map(k => k * p.step);
	g.selectAll('line.gx').data(p.xt).join('line')
		.attr('class', 'gx')
		.attr('x1', d => xs(d)).attr('x2', d => xs(d))
		.attr('y1', p.yr[0]).attr('y2', p.yr[1]);
	g.selectAll('line.gy').data(yt).join('line')
		.attr('class', 'gy')
		.attr('x1', p.xr[0]).attr('x2', p.xr[1])
		.attr('y1', d => ys(d)).attr('y2', d => ys(d));
	g.selectAll('line.gx, line.gy')
		.attr('stroke', '#b4b4b4').attr('stroke-width', 0.8)
		.attr('stroke-dasharray', '1.5,1.5');
	//Zero line.
	g.append('line')
		.attr('x1', p.xr[0]).attr('x2', p.xr[1])
		.attr('y1', ys(0)).attr('y2', ys(0))
		.attr('stroke', '#222').attr('stroke-width', 1);
	//Series.
	const line = d3.line().x(d => xs(d[0])).y(d => ys(d[1]));
	const sg = g.append('g').attr('clip-path', 'url(#clip' + i + ')');
	p.series.forEach(([vals, key]) => {
		const st = styles[key];
		sg.append('path')
			.attr('d', line(pairs(vals)))
			.attr('fill', 'none')
			.attr('stroke', st.c)
			.attr('stroke-width', 0.9)
			.attr('stroke-opacity', 0.8)
			.attr('stroke-dasharray', st.dash || null);
	});
	//Frame.
	g.append('rect')
		.attr('x', p.xr[0]).attr('y', p.yr[0]).attr('width', w).attr('height', h)
		.attr('fill', 'none').attr('stroke', '#555').attr('stroke-width', 1.2);
	//Negative tick labels: only the sign survives.
	g.selectAll('text.neg').data(p.neg).join('text')
		.attr('class', 'neg')
		.attr('x', p.side === 'l' ? p.xr[0] - 23 : p.xr[0] - 20)
		.attr('y', d => ys(d))
		.attr('dy', '0.32em')
		.attr('text-anchor', 'middle')
		.attr('font-size', 9)
		.attr('fill', '#333')
		.text('\u2212');
	if (p.arrow) {
		const a = p.arrow;
		markLayer.append('line')
			.attr('x1', xs(a[0])).attr('y1', ys(a[1]))
			.attr('x2', xs(a[2])).attr('y2', ys(a[3]))
			.attr('stroke', '#000').attr('stroke-width', 0.9)
			.attr('marker-end', 'url(#head)');
	}
	//Legends.
	p.legends.forEach(lg => {
		const [bx, by, bw, bh] = lg.box;
		legendLayer.append('rect')
			.attr('x', bx).attr('y', by).attr('width', bw).attr('height', bh)
			.attr('fill', '#fff').attr('stroke', '#555').attr('stroke-width', 1.2);
		lg.items.forEach(([lx, ly, key]) => {
			const st = styles[key];
			legendLayer.append('line')
				.attr('x1', lx).attr('x2', lx + 9)
				.attr('y1', ly).attr('y2', ly)
				.attr('stroke', st.c).attr('stroke-width', 1)
				.attr('stroke-opacity', 0.8)
				.attr('stroke-dasharray', st.dash ? '2.5,2' : null);
		});
	});
});

//Dashed markers across each column.
const lx = d3.scaleLinear().domain(panels[0].xd).range(panels[0].xr);
const rx = d3.scaleLinear().domain(panels[5].xd).range(panels[5].xr);
markLayer.append('line')
	.attr('x1', lx(markLeft)).attr('x2', lx(markLeft))
	.attr('y1', 0).attr('y2', 806)
	.attr('stroke', '#555').attr('stroke-width', 1)
	.attr('stroke-dasharray', '9,6');
markLayer.append('line')
	.attr('x1', rx(markRight)).attr('x2', rx(markRight))
	.attr('y1', 0).attr('y2', 806)
	.attr('stroke', '#aaa').attr('stroke-width', 1.8)
	.attr('stroke-dasharray', '10,6');

//Bottom strips.
const bl = d3.scaleLinear().domain([-0.29, 6.62]).range([28.3, 413.3]);
const br = d3.scaleLinear().domain([-6.53, 1]).range([442.7, 826.7]);
const signOnly = d => d < 0 ? '\u2212' : '';
svg.append('g').attr('transform', 'translate(0,831)')
	.call(d3.axisBottom(bl).tickValues(bottomLeftTicks).tickSize(-2).tickSizeOuter(0).tickPadding(6).tickFormat(signOnly));
svg.append('g').attr('transform', 'translate(0,831)')
	.call(d3.axisBottom(br).tickValues(bottomRightTicks).tickSize(-2).tickSizeOuter(0).tickPadding(6).tickFormat(signOnly))
	.selectAll('text').attr('dx', -4);
svg.selectAll('.tick text').attr('font-size', 10).attr('fill', '#333');
svg.selectAll('.domain').attr('stroke', '#333');
</script>
</body></html>
